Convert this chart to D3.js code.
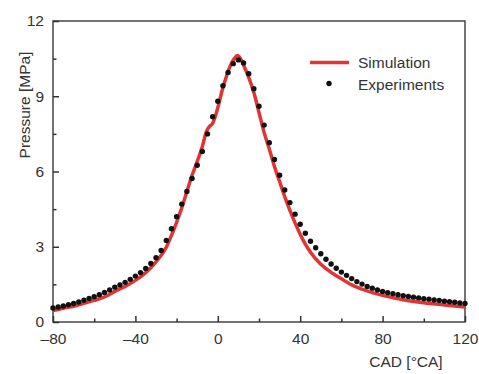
<!DOCTYPE html>
<html lang="en">
<head>
    <meta charset="UTF-8">
    <title>Pressure vs CAD</title>
    <script src="https://d3js.org/d3.v7.min.js"></script>
    <style>
        body { margin: 0; background: #fff; }
        text { font-family: "Liberation Sans", Arial, sans-serif; fill: #333; }
        .axis text { font-size: 15.5px; }
        .axis path, .axis line { stroke: #333; stroke-width: 1.5; }
    </style>
</head>
<body>
<div id="fig"></div>
<script>
    // simulation curve (CAD, pressure)
    let simCad = [-80, -75, -70, -65, -60, -55, -50, -45, -40, -35, -30, -25, -22.5, -20, -17.5, -15, -12.5,
        -10, -7.5, -5.5, -4, -2.5, -1, 0.5, 2, 4, 6, 8, 9.5, 11, 13, 15, 17.5, 20, 22.5, 25, 27.5, 30, 32.5,
        35, 37.5, 40, 42.5, 45, 50, 55, 60, 65, 70, 75, 80, 85, 90, 100, 110, 120]
    let simP = [0.46, 0.55, 0.63, 0.74, 0.86, 1.0, 1.22, 1.42, 1.66, 1.97, 2.4, 2.98, 3.45, 3.97, 4.55, 5.2, 5.85,
        6.4, 7.0, 7.6, 7.8, 7.92, 8.25, 8.7, 9.2, 9.75, 10.2, 10.5, 10.62, 10.5, 10.15, 9.75, 9.15, 8.35, 7.55,
        6.9, 6.2, 5.6, 5.0, 4.45, 3.95, 3.5, 3.1, 2.78, 2.3, 1.98, 1.72, 1.48, 1.31, 1.17, 1.06, 0.97, 0.89,
        0.77, 0.68, 0.6]

    // experimental points, every 2.5 °CA from -80 to 120
    let expCad = d3.range(-80, 120.01, 2.5)
    let expP = [0.56, 0.6, 0.64, 0.69, 0.74, 0.8, 0.87, 0.94, 1.01, 1.09, 1.18, 1.28, 1.39, 1.48, 1.58, 1.7,
        1.83, 1.97, 2.13, 2.33, 2.56, 2.85, 3.25, 3.72, 4.2, 4.7, 5.2, 5.72, 6.25, 6.8, 7.5, 8.18, 8.8, 9.42,
        9.95, 10.3, 10.45, 10.33, 9.9, 9.3, 8.6, 7.85, 7.15, 6.48, 5.85, 5.26, 4.76, 4.3, 3.9, 3.54, 3.22,
        2.96, 2.72, 2.5, 2.31, 2.14, 1.99, 1.86, 1.73, 1.61, 1.51, 1.42, 1.35, 1.28, 1.22, 1.17, 1.13, 1.09,
        1.05, 1.02, 0.99, 0.96, 0.93, 0.91, 0.88, 0.86, 0.83, 0.81, 0.79, 0.76, 0.74]

    let xMajor = [-80, -40, 0, 40, 80, 120]
    let xMinor = [-60, -20, 20, 60, 100]
    let yMajor = [0, 3, 6, 9, 12]
    let yMinor = [1.5, 4.5, 7.5, 10.5]

    let W = 479, H = 374
    let mLeft = 53, mRight = 465, mTop = 21, mBottom = 322

    let svg = d3.select("#fig").append("svg")
        .attr("width", W).attr("height", H)

    let x = d3.scaleLinear().domain([-80, 120]).range([mLeft, mRight])
    let y = d3.scaleLinear().domain([0, 12]).range([mBottom, mTop])

    // frame
    svg.append("rect")
        .attr("x", mLeft).attr("y", mTop)
        .attr("width", mRight - mLeft).attr("height", mBottom - mTop)
        .attr("fill", "none").attr("stroke", "#444").attr("stroke-width", 1.5)

    // simulation line
    let line = d3.line()
        .x((d, i) => x(simCad[i]))
        .y((d, i) => y(simP[i]))
        .curve(d3.curveMonotoneX)

    svg.append("path")
        .datum(simP)
        .attr("d", line)
        .attr("fill", "none")
        .attr("stroke", "#e23434")
        .attr("stroke-width", 3.5)

    // experiment points
    svg.selectAll(".pt")
        .data(expP)
        .enter()
        .append("circle")
        .attr("class", "pt")
        .attr("cx", (d, i) => x(expCad[i]))
        .attr("cy", d => y(d))
        .attr("r", 2.7)
        .attr("fill", "#111")

    // axes, ticks pointing inward
    let fmt = d => d < 0 ? "\u2013" + Math.abs(d) : d
    svg.append("g").attr("class", "axis")
        .attr("transform", `translate(0,${mBottom})`)
        .call(d3.axisBottom(x).tickValues(xMajor).tickSizeInner(-6).tickSizeOuter(0).tickPadding(11).tickFormat(fmt))
    svg.append("g").attr("class", "axis")
        .attr("transform", `translate(0,${mBottom})`)
        .call(d3.axisBottom(x).tickValues(xMinor).tickSizeInner(-3.5).tickSizeOuter(0).tickFormat(""))
    svg.append("g").attr("class", "axis")
        .attr("transform", `translate(${mLeft},0)`)
        .call(d3.axisLeft(y).tickValues(yMajor).tickSizeInner(-6).tickSizeOuter(0).tickPadding(9))
    svg.append("g").attr("class", "axis")
        .attr("transform", `translate(${mLeft},0)`)
        .call(d3.axisLeft(y).tickValues(yMinor).tickSizeInner(-3.5).tickSizeOuter(0).tickFormat(""))
    svg.selectAll(".axis .domain").remove()

    // axis titles
    svg.append("text")
        .attr("x", 406).attr("y", 367)
        .attr("text-anchor", "middle")
        .attr("font-size", 15.5)
        .text("CAD [\u00B0CA]")

    svg.append("text")
        .attr("transform", "translate(30,105) rotate(-90)")
        .attr("text-anchor", "middle")
        .attr("font-size", 15.5)
        .text("Pressure [MPa]")

    // legend
    svg.append("line")
        .attr("x1", 310).attr("x2", 349).attr("y1", 62.5).attr("y2", 62.5)
        .attr("stroke", "#e23434").attr("stroke-width", 3.5)
    svg.append("text")
        .attr("x", 358).attr("y", 67.5)
        .attr("font-size", 15.5)
        .text("Simulation")
    svg.append("circle")
        .attr("cx", 329).attr("cy", 83.5).attr("r", 2.7).attr("fill", "#111")
    svg.append("text")
        .attr("x", 358).attr("y", 90)
        .attr("font-size", 15.5)
        .text("Experiments")
</script>
</body>
</html>
